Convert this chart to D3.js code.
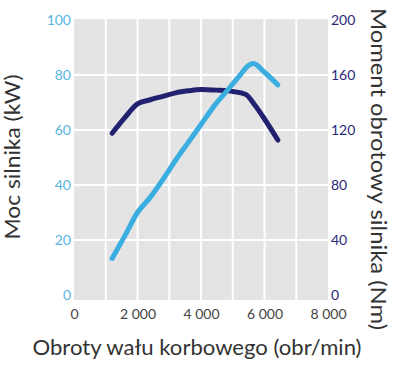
<!DOCTYPE html>
<html><head><meta charset="utf-8">
<script src="https://cdn.jsdelivr.net/npm/d3@7"></script>
<style>body{margin:0;background:#fff}svg{display:block}text{font-family:Lato,"Open Sans",sans-serif}</style>
</head><body>
<svg id="c" width="400" height="369"></svg>
<script>
const powerRpm = [1200,1600,2000,2400,2800,3200,3600,4000,4400,4800,5200,5500,5650,6000,6420];
const powerKw  = [13.3,21.5,30,35.5,42,49,55.5,62,68.5,74,79.5,83.5,84.2,81,76.4];
const torqueRpm = [1200,1600,2000,2400,2800,3200,3600,4000,4500,5000,5400,5700,6000,6420];
const torqueNm  = [117.6,129,139,142,144.5,147,148.5,149.5,149,148,146,138,128,112.7];
const xTicks = [0,2000,4000,6000,8000];
const xTickLabels = ["0","2 000","4 000","6 000","8 000"];
const leftTicks = [0,20,40,60,80,100];
const rightTicks = [0,40,80,120,160,200];
const xTitle = "Obroty wału korbowego (obr/min)";
const leftTitle = "Moc silnika (kW)";
const rightTitle = "Moment obrotowy silnika (Nm)";

const svg = d3.select("#c");
const x = d3.scaleLinear().domain([0,8000]).range([74,328]);
const yL = d3.scaleLinear().domain([0,100]).range([295,20]);
const yR = d3.scaleLinear().domain([0,200]).range([295,20]);

svg.append("rect").attr("x",74).attr("y",19).attr("width",254).attr("height",281).attr("fill","#e4e4e4");
const grid = svg.append("g").attr("stroke","#fff").attr("stroke-width",2);
d3.range(1000,8000,1000).forEach(v=>grid.append("line").attr("x1",x(v)).attr("x2",x(v)).attr("y1",19).attr("y2",300));
[20,40,60,80].forEach(v=>grid.append("line").attr("x1",74).attr("x2",328).attr("y1",yL(v)).attr("y2",yL(v)));

const line = (xs,ys,ysc)=>d3.line().curve(d3.curveMonotoneX).x((d,i)=>x(xs[i])).y((d,i)=>ysc(ys[i]))(xs);
svg.append("path").attr("d",line(torqueRpm,torqueNm,yR)).attr("fill","none").attr("stroke","#22216f").attr("stroke-width",5).attr("stroke-linecap","round").attr("stroke-linejoin","round");
svg.append("path").attr("d",line(powerRpm,powerKw,yL)).attr("fill","none").attr("stroke","#3aaee0").attr("stroke-width",5).attr("stroke-linecap","round").attr("stroke-linejoin","round");

const lAx = svg.append("g").attr("transform","translate(71,0)").call(d3.axisLeft(yL).tickValues(leftTicks).tickSize(0).tickPadding(0));
lAx.select(".domain").remove();
lAx.selectAll("text").attr("fill","#5ab4e0").attr("font-size",14).attr("font-family","Lato");
const rAx = svg.append("g").attr("transform","translate(331,0)").call(d3.axisRight(yR).tickValues(rightTicks).tickSize(0).tickPadding(0));
rAx.select(".domain").remove();
rAx.selectAll("text").attr("fill","#2a2a7a").attr("font-size",14).attr("font-family","Lato");
const bAx = svg.append("g").attr("transform","translate(0,309)").call(d3.axisBottom(x).tickValues(xTicks).tickFormat((d,i)=>xTickLabels[i]).tickSize(0).tickPadding(0));
bAx.select(".domain").remove();
bAx.selectAll("text").attr("fill","#444").attr("font-size",14).attr("font-family","Lato");

svg.append("text").attr("x",197).attr("y",355).attr("text-anchor","middle").attr("font-size",21).attr("fill","#333").attr("textLength",329).attr("lengthAdjust","spacingAndGlyphs").text(xTitle);
svg.append("text").attr("transform","translate(20,157) rotate(-90)").attr("text-anchor","middle").attr("font-size",21).attr("fill","#333").attr("textLength",165).attr("lengthAdjust","spacingAndGlyphs").text(leftTitle);
svg.append("text").attr("transform","translate(371,169) rotate(90)").attr("text-anchor","middle").attr("font-size",21).attr("fill","#333").attr("textLength",322).attr("lengthAdjust","spacingAndGlyphs").text(rightTitle);
</script>
</body></html>
